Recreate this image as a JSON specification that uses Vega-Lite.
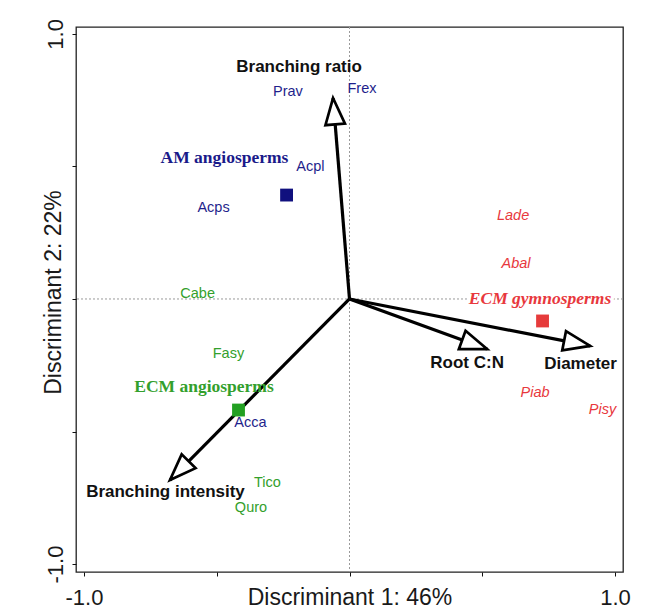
{
  "$schema": "https://vega.github.io/schema/vega-lite/v6.json",
  "width": 547,
  "height": 545,
  "autosize": {"type": "none"},
  "padding": {"left": 76, "top": 27, "right": 34, "bottom": 38},
  "background": "white",
  "config": {
    "view": {"stroke": "#222222", "strokeWidth": 1.3},
    "font": "Liberation Sans",
    "axis": {
      "domain": false, "grid": false,
      "ticks": true, "tickSize": 4, "tickColor": "#111111", "tickWidth": 1,
      "labelFont": "Liberation Sans", "labelFontSize": 22, "labelColor": "#1a1a1a",
      "labelFlush": false, "labelOverlap": false,
      "titleFont": "Liberation Sans", "titleFontSize": 23, "titleFontWeight": "normal", "titleColor": "#1a1a1a"
    }
  },
  "datasets": {
    "vectors": [
      {"name": "Branching ratio", "x": -0.062, "y": 0.758, "lx": -0.19, "ly": 0.875},
      {"name": "Root C:N", "x": 0.518, "y": -0.189, "lx": 0.443, "ly": -0.242},
      {"name": "Diameter", "x": 0.906, "y": -0.177, "lx": 0.87, "ly": -0.245},
      {"name": "Branching intensity", "x": -0.676, "y": -0.683, "lx": -0.693, "ly": -0.728}
    ],
    "blue": [
      {"sp": "Prav", "x": -0.232, "y": 0.781},
      {"sp": "Frex", "x": 0.047, "y": 0.792},
      {"sp": "Acpl", "x": -0.147, "y": 0.498},
      {"sp": "Acps", "x": -0.512, "y": 0.343},
      {"sp": "Acca", "x": -0.373, "y": -0.468}
    ],
    "green": [
      {"sp": "Cabe", "x": -0.572, "y": 0.019},
      {"sp": "Fasy", "x": -0.456, "y": -0.208},
      {"sp": "Tico", "x": -0.309, "y": -0.694},
      {"sp": "Quro", "x": -0.371, "y": -0.789}
    ],
    "red": [
      {"sp": "Lade", "x": 0.616, "y": 0.313},
      {"sp": "Abal", "x": 0.627, "y": 0.132},
      {"sp": "Piab", "x": 0.699, "y": -0.355},
      {"sp": "Pisy", "x": 0.953, "y": -0.419}
    ],
    "groups": [
      {"group": "AM angiosperms", "x": -0.237, "y": 0.392, "lx": -0.471, "ly": 0.532},
      {"group": "ECM angiosperms", "x": -0.418, "y": -0.419, "lx": -0.548, "ly": -0.332},
      {"group": "ECM gymnosperms", "x": 0.727, "y": -0.083, "lx": 0.7175, "ly": 0.0}
    ]
  },
  "layer": [
    {
      "data": {"values": [{"v": 0}]},
      "mark": {"type": "rule", "color": "#9a9a9a", "strokeWidth": 1, "strokeDash": [2, 2]},
      "encoding": {
        "x": {
          "field": "v", "type": "quantitative",
          "scale": {"domain": [-1.03, 1.03], "nice": false, "zero": false},
          "axis": {
            "title": "Discriminant 1: 46%",
            "values": [-1, -0.5, 0, 0.5, 1],
            "labelExpr": "datum.value == 1 ? '1.0' : (datum.value == -1 ? '-1.0' : '')",
            "labelBaseline": "middle", "labelPadding": 21,
            "titleBaseline": "middle", "titleY": 25
          }
        }
      }
    },
    {
      "data": {"values": [{"v": 0}]},
      "mark": {"type": "rule", "color": "#9a9a9a", "strokeWidth": 1, "strokeDash": [2, 2]},
      "encoding": {
        "y": {
          "field": "v", "type": "quantitative",
          "scale": {"domain": [-1.03, 1.026], "nice": false, "zero": false},
          "axis": {
            "title": "Discriminant 2: 22%",
            "values": [-1, -0.5, 0, 0.5, 1],
            "labelExpr": "datum.value == 1 ? '1.0' : (datum.value == -1 ? '-1.0' : '')",
            "labelAngle": 270, "labelAlign": "center", "labelBaseline": "middle", "labelPadding": 17,
            "titleAngle": 270, "titleBaseline": "middle", "titleAlign": "center", "titleX": -23, "titleY": 265
          }
        }
      }
    },
    {
      "data": {"name": "vectors"},
      "mark": {"type": "rule", "color": "black", "strokeWidth": 3.2},
      "encoding": {
        "x": {"field": "x", "type": "quantitative"},
        "y": {"field": "y", "type": "quantitative"},
        "x2": {"datum": 0},
        "y2": {"datum": 0}
      }
    },
    {
      "data": {"name": "vectors"},
      "transform": [{"calculate": "atan2(datum.x, datum.y) * 180 / PI", "as": "ang"}],
      "mark": {
        "type": "point",
        "shape": "M0,0L-0.37,1L0.37,1Z",
        "size": 2800,
        "filled": true,
        "fill": "white",
        "stroke": "black",
        "strokeWidth": 2.7,
        "strokeJoin": "miter",
        "opacity": 1
      },
      "encoding": {
        "x": {"field": "x", "type": "quantitative"},
        "y": {"field": "y", "type": "quantitative"},
        "angle": {"field": "ang", "type": "quantitative", "scale": null}
      }
    },
    {
      "data": {"name": "vectors"},
      "mark": {"type": "text", "font": "Liberation Sans", "fontWeight": "bold", "fontSize": 17, "color": "#111111", "baseline": "middle", "align": "center"},
      "encoding": {
        "x": {"field": "lx", "type": "quantitative"},
        "y": {"field": "ly", "type": "quantitative"},
        "text": {"field": "name"}
      }
    },
    {
      "data": {"name": "blue"},
      "mark": {"type": "text", "font": "Liberation Sans", "fontSize": 14.5, "color": "#1f1f8c", "baseline": "middle", "align": "center"},
      "encoding": {
        "x": {"field": "x", "type": "quantitative"},
        "y": {"field": "y", "type": "quantitative"},
        "text": {"field": "sp"}
      }
    },
    {
      "data": {"name": "green"},
      "mark": {"type": "text", "font": "Liberation Sans", "fontSize": 14.5, "color": "#33a02c", "baseline": "middle", "align": "center"},
      "encoding": {
        "x": {"field": "x", "type": "quantitative"},
        "y": {"field": "y", "type": "quantitative"},
        "text": {"field": "sp"}
      }
    },
    {
      "data": {"name": "red"},
      "mark": {"type": "text", "font": "Liberation Sans", "fontSize": 14.5, "fontStyle": "italic", "color": "#e8383d", "baseline": "middle", "align": "center"},
      "encoding": {
        "x": {"field": "x", "type": "quantitative"},
        "y": {"field": "y", "type": "quantitative"},
        "text": {"field": "sp"}
      }
    },
    {
      "data": {"name": "groups"},
      "mark": {"type": "point", "shape": "square", "size": 165, "filled": true, "opacity": 1},
      "encoding": {
        "x": {"field": "x", "type": "quantitative"},
        "y": {"field": "y", "type": "quantitative"},
        "color": {
          "field": "group", "type": "nominal", "legend": null,
          "scale": {"domain": ["AM angiosperms", "ECM angiosperms", "ECM gymnosperms"], "range": ["#10107e", "#22a022", "#e63b3b"]}
        }
      }
    },
    {
      "data": {"name": "groups"},
      "transform": [{"filter": "datum.group == 'ECM gymnosperms'"}],
      "mark": {"type": "text", "font": "Liberation Serif", "fontWeight": "bold", "fontStyle": "italic", "fontSize": 17.5, "color": "white", "stroke": "white", "strokeWidth": 7, "baseline": "middle", "align": "center"},
      "encoding": {
        "x": {"field": "lx", "type": "quantitative"},
        "y": {"field": "ly", "type": "quantitative"},
        "text": {"field": "group"}
      }
    },
    {
      "data": {"name": "groups"},
      "transform": [{"filter": "datum.group == 'AM angiosperms'"}],
      "mark": {"type": "text", "font": "Liberation Serif", "fontWeight": "bold", "fontSize": 17.5, "color": "#1a1a8a", "baseline": "middle", "align": "center"},
      "encoding": {
        "x": {"field": "lx", "type": "quantitative"},
        "y": {"field": "ly", "type": "quantitative"},
        "text": {"field": "group"}
      }
    },
    {
      "data": {"name": "groups"},
      "transform": [{"filter": "datum.group == 'ECM angiosperms'"}],
      "mark": {"type": "text", "font": "Liberation Serif", "fontWeight": "bold", "fontSize": 17.5, "color": "#33a02c", "baseline": "middle", "align": "center"},
      "encoding": {
        "x": {"field": "lx", "type": "quantitative"},
        "y": {"field": "ly", "type": "quantitative"},
        "text": {"field": "group"}
      }
    },
    {
      "data": {"name": "groups"},
      "transform": [{"filter": "datum.group == 'ECM gymnosperms'"}],
      "mark": {"type": "text", "font": "Liberation Serif", "fontWeight": "bold", "fontStyle": "italic", "fontSize": 17.5, "color": "#e8383d", "baseline": "middle", "align": "center"},
      "encoding": {
        "x": {"field": "lx", "type": "quantitative"},
        "y": {"field": "ly", "type": "quantitative"},
        "text": {"field": "group"}
      }
    }
  ]
}
